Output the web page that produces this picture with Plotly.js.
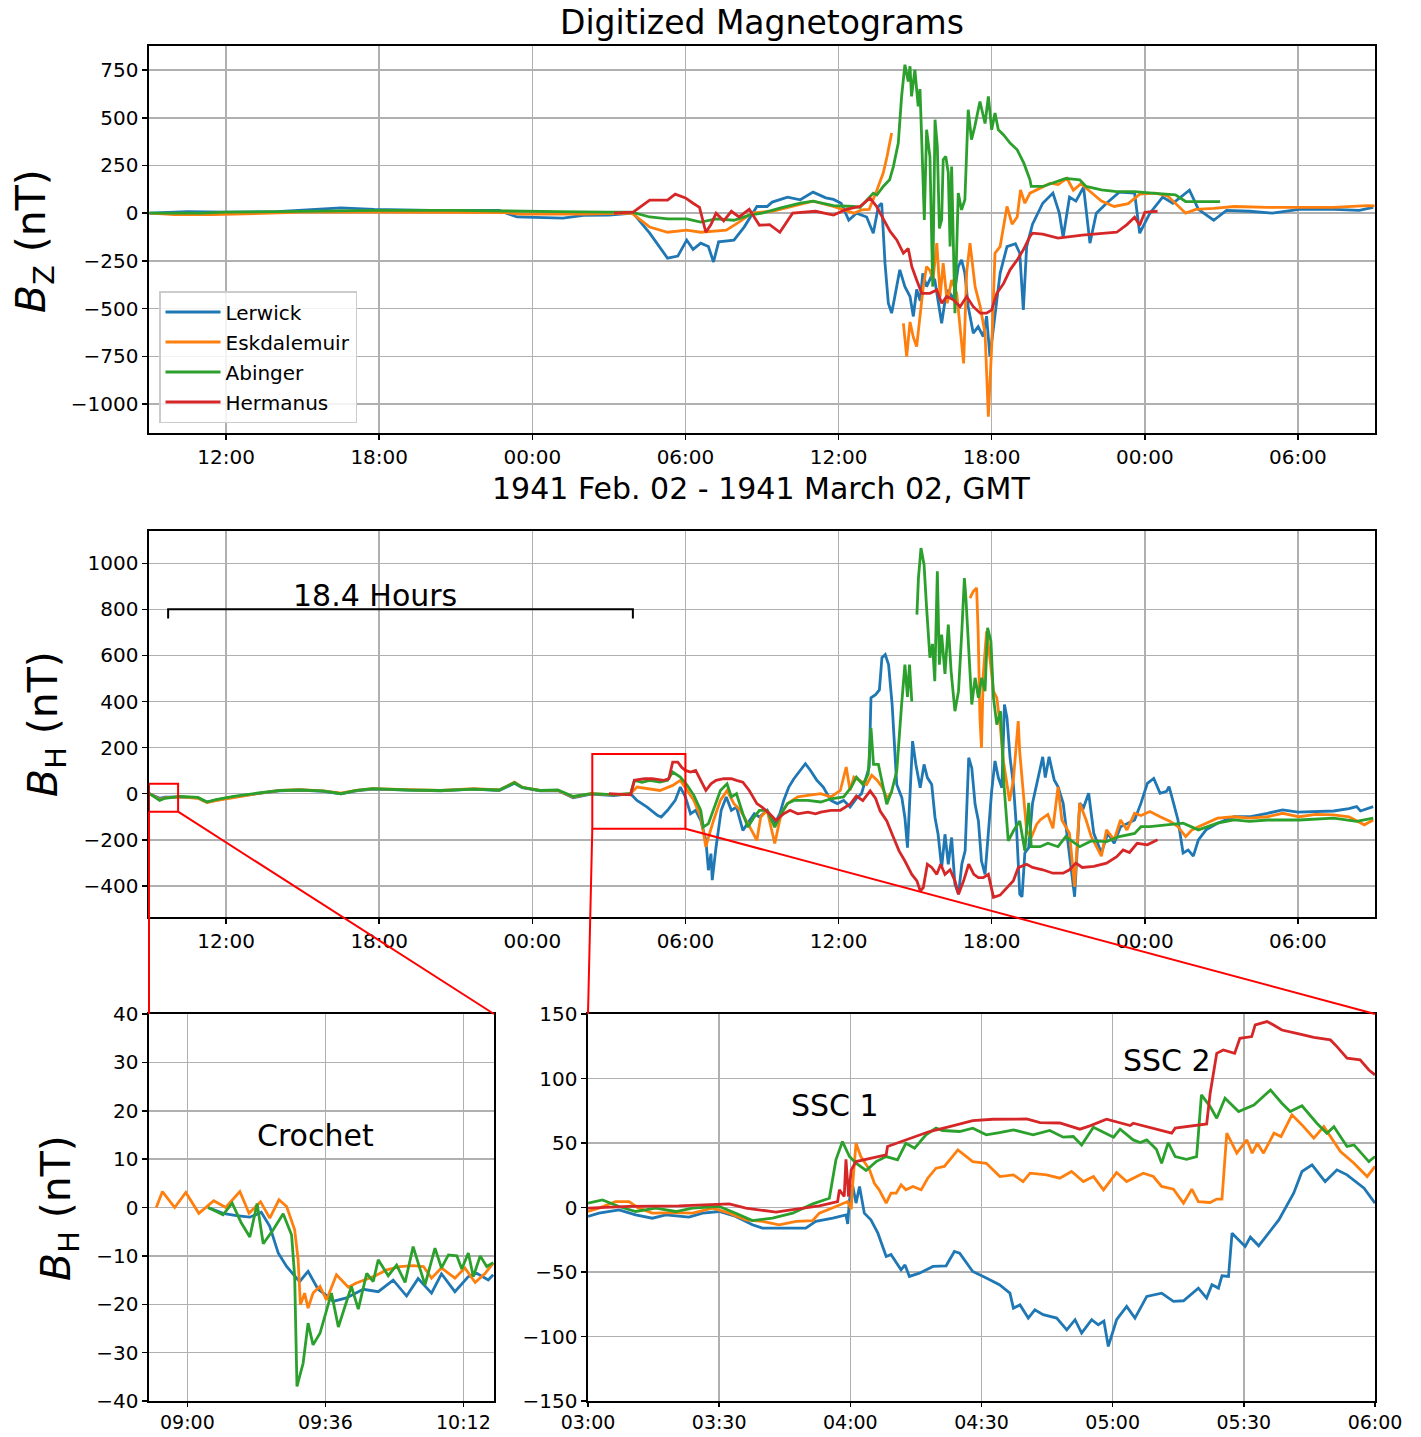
<!DOCTYPE html>
<html>
<head>
<meta charset="utf-8">
<script src="https://cdn.plot.ly/plotly-3.0.1.min.js"></script>
<style>html,body{margin:0;padding:0;background:#fff;}#chart{width:1421px;height:1437px;}</style>
</head>
<body>
<div id="chart"></div>
<script>
// ---------------- DATA ----------------
// Times in hours since 1941-02-28 00:00 GMT
const stations = ["Lerwick", "Eskdalemuir", "Abinger", "Hermanus"];
const colors = ["#1f77b4", "#ff7f0e", "#2ca02c", "#d62728"];

const mainTickVals = [12, 18, 24, 30, 36, 42, 48, 54];
const mainTickText = ["12:00", "18:00", "00:00", "06:00", "12:00", "18:00", "00:00", "06:00"];
const crochetTickVals = [9.0, 9.6, 10.2];
const crochetTickText = ["09:00", "09:36", "10:12"];
const sscTickVals = [0, 30, 60, 90, 120, 150, 180];
const sscTickText = ["03:00", "03:30", "04:00", "04:30", "05:00", "05:30", "06:00"];

// ---- B_Z ----
const bzLerT = [9.0,10.5,12.0,14.0,16.5,17.8,20.0,22.7,23.4,24.5,25.2,26.0,27.0,27.95,28.6,29.3,29.7,30.05,30.3,30.6,30.9,31.1,31.3,31.9,32.3,32.8,33.2,33.4,34.0,34.5,35.0,35.5,35.8,36.1,36.4,36.7,37.1,37.36,37.56,37.69,37.82,37.95,38.08,38.2,38.4,38.6,38.8,38.93,39.06,39.2,39.3,39.45,39.64,39.77,40.04,40.17,40.3,40.5,40.69,40.82,40.95,41.08,41.28,41.47,41.67,41.8,41.93,42.07,42.2,42.33,42.6,42.93,43.1,43.24,43.37,43.6,44.0,44.4,44.65,44.8,45.05,45.3,45.6,45.85,46.1,46.5,47.0,47.6,47.8,48.2,48.7,49.1,49.75,50.1,50.7,51.2,52.1,53.0,54.05,55.4,56.4,56.95];
const bzLerV = [0,8,5,8,28,20,14,14,-20,-22,-26,-12,-10,0,-105,-236,-225,-141,-190,-157,-175,-256,-150,-141,-73,35,35,58,84,70,110,80,72,52,-37,0,-20,-105,35,52,-262,-472,-524,-440,-297,-385,-437,-541,-400,-460,-315,-385,-330,-350,-577,-460,-402,-455,-280,-245,-315,-490,-629,-595,-647,-540,-752,-600,-472,-315,-175,-160,-210,-507,-175,-58,52,105,0,-126,84,63,136,-157,0,52,110,105,-105,0,84,52,120,20,-37,15,10,0,20,20,15,30];

const bzEskT = [9.0,10.0,11.5,13.0,15.0,18.0,21.0,23.0,23.5,26.0,27.9,28.6,29.3,30.05,30.6,31.0,31.6,32.1,32.6,33.4,34.2,35.0,35.8,36.6,36.9,37.2,37.5,37.75,37.9,38.08,38.3,38.54,38.67,38.8,38.93,39.06,39.2,39.32,39.45,39.58,39.7,39.85,39.98,40.1,40.26,40.43,40.63,40.9,41.02,41.15,41.35,41.55,41.74,41.87,42.0,42.13,42.33,42.6,42.8,43.0,43.13,43.3,43.5,43.75,44.3,44.6,44.95,45.2,45.5,45.8,46.3,46.8,47.35,47.8,48.4,48.9,49.6,50.0,50.7,51.5,52.8,54.05,55.4,56.7,57.0];
const bzEskV = [0,-8,-8,-3,5,5,5,3,-5,-5,0,-73,-100,-89,-100,-95,-89,-47,0,10,37,63,35,0,17,20,120,210,297,420,null,-577,-752,-570,-650,-699,-530,-385,-280,-300,-350,-157,-437,-262,-472,-350,-420,-787,-310,-157,-385,-490,-630,-1066,-700,-210,-175,35,-58,-20,122,52,105,120,157,150,183,120,155,120,63,35,50,100,105,90,0,20,25,35,30,30,30,40,38];

const bzAbiT = [9.0,11.0,12.0,15.0,18.0,21.0,23.0,25.0,27.0,27.9,28.6,29.3,30.05,30.6,31.2,31.9,32.5,33.0,33.7,34.5,35.0,35.8,36.6,36.84,37.36,37.5,37.75,38.0,38.15,38.34,38.47,38.6,38.73,38.8,38.86,38.99,39.12,39.19,39.25,39.36,39.45,39.58,39.69,39.78,39.87,39.95,40.04,40.1,40.2,40.3,40.37,40.43,40.56,40.69,40.82,40.95,41.08,41.21,41.34,41.54,41.74,41.87,42.0,42.13,42.26,42.46,42.72,43.0,43.26,43.5,43.55,44.0,44.9,45.45,45.7,46.3,46.9,47.6,48.3,49.2,49.6,50.4,50.95];
const bzAbiV = [0,0,5,12,15,15,10,8,5,5,-20,-30,-30,-47,-30,-37,-10,0,26,52,63,40,35,30,105,95,140,175,245,367,612,778,690,770,612,752,560,650,420,-35,437,297,-385,490,350,-80,-35,280,297,210,-175,245,-524,105,17,70,542,385,455,585,470,612,437,525,437,411,367,332,262,175,140,140,182,175,140,122,113,113,105,96,61,61,61];

const bzHerT = [27.2,27.95,28.6,29.3,29.6,30.0,30.3,30.55,30.8,31.0,31.2,31.5,31.8,32.1,32.5,32.9,33.3,33.7,34.2,35.1,35.8,36.3,36.84,37.23,37.49,37.7,38.02,38.28,38.54,38.73,38.87,39.06,39.26,39.58,39.85,40.04,40.24,40.5,40.76,41.02,41.28,41.55,41.8,42.0,42.2,42.46,42.72,43.0,43.24,43.5,43.6,44.0,44.6,45.55,46.3,46.9,47.3,47.6,47.8,48.0,48.5];
const bzHerV = [0,5,68,68,100,80,52,30,-100,-60,0,-40,10,-20,20,-63,-60,-100,0,10,-10,20,35,79,35,-17,-96,-140,-210,-185,-280,-350,-420,-420,-402,-472,-437,-454,-490,-437,-490,-524,-524,-507,-420,-370,-297,-245,-192,-122,-105,-110,-131,-115,-105,-100,-60,-21,-63,5,10];

// ---- B_H ----
const bhQuietT = [9.0,9.4,9.6,10.2,10.9,11.25,11.6,12.3,13.2,14.1,14.9,15.8,16.5,17.1,17.75,19.1,20.4,21.7,22.7,23.3,23.6,24.3,25.0,25.6,26.3,27.2];
const bhLerQuietV = [0,-20,-15,-14,-18,-36,-28,-14,0,12,16,10,0,12,20,16,12,20,14,45,26,12,14,-18,-2,-8];
const bhEskQuietV = [0,-25,-18,-14,-20,-38,-30,-16,0,14,18,12,2,14,22,18,14,22,16,50,28,14,14,-14,0,-5];
const bhAbiQuietV = [0,-29,-20,-12,-16,-36,-26,-12,2,14,16,12,0,14,22,16,14,20,16,48,28,14,16,-12,0,-4];

const bhLerT = [27.85,28.1,28.5,28.9,29.05,29.3,29.6,29.8,30.0,30.2,30.4,30.6,30.8,30.9,31.0,31.05,31.2,31.4,31.6,31.8,32.0,32.25,32.5,32.7,32.9,33.2,33.5,33.7,33.85,34.05,34.25,34.5,34.7,34.9,35.15,35.4,35.7,35.95,36.2,36.45,36.7,36.9,37.2,37.27,37.45,37.6,37.7,37.83,37.96,38.1,38.2,38.28,38.48,38.6,38.7,38.8,38.9,39.03,39.2,39.35,39.48,39.65,39.78,39.9,40.04,40.17,40.3,40.43,40.56,40.7,40.83,40.96,41.1,41.22,41.35,41.48,41.6,41.74,41.87,42.0,42.13,42.26,42.4,42.5,42.6,42.72,42.85,42.98,43.1,43.19,43.3,43.45,43.6,43.9,44.0,44.1,44.25,44.45,44.6,44.8,45.05,45.25,45.45,45.6,45.8,46.0,46.3,46.55,46.8,47.05,47.3,47.6,47.85,48.1,48.35,48.6,48.85,48.95,49.1,49.3,49.5,49.7,49.9,50.1,50.4,50.85,51.5,52.1,52.8,53.4,54.0,54.7,55.4,56.0,56.3,56.45,56.95];
const bhLerV = [0,-29,-58,-94,-101,-72,-29,29,-14,-87,-72,-116,-202,-332,-260,-375,-231,-72,-14,-72,-58,-159,-120,-87,-101,-72,-130,-87,-29,29,65,101,130,101,58,29,-29,-43,-29,-58,-20,0,116,416,430,450,590,604,560,387,214,40,-17,-104,-234,-17,228,127,26,127,70,40,-104,-176,-321,-176,-306,-190,-393,-436,-306,-248,156,112,-46,-118,-292,-350,-160,12,142,70,26,387,329,156,40,-162,-436,-447,-257,-234,-41,117,160,70,160,60,30,-41,-257,-447,-41,-60,2,-172,-257,-172,-215,-143,-130,-114,-41,45,66,2,10,31,-30,-114,-257,-244,-271,-200,-157,-128,-100,-100,-85,-70,-80,-77,-75,-65,-56,-75,-56];

const bhEskT = [27.85,28.1,28.5,29.0,29.5,29.8,30.07,30.33,30.6,30.8,30.9,31.1,31.37,31.63,31.9,32.15,32.45,32.8,32.95,33.2,33.5,33.75,34.0,34.4,34.8,35.3,35.7,36.07,36.3,36.45,36.6,36.85,37.1,37.3,37.5,37.7,37.9,38.1,38.2,41.15,41.28,41.41,41.47,41.54,41.6,41.67,41.8,41.93,42.07,42.2,42.33,42.46,42.59,42.7,42.85,42.98,43.04,43.1,43.24,43.37,43.55,43.76,43.9,44.2,44.4,44.6,44.75,45.05,45.25,45.45,45.7,45.9,46.3,46.5,46.8,47.05,47.3,47.6,47.85,48.2,48.6,49.0,49.3,49.6,49.85,50.1,50.85,51.5,52.1,52.8,53.4,54.05,54.7,55.4,56.0,56.6,56.95];
const bhEskV = [0,29,22,14,36,58,14,-29,-101,-231,-190,-116,-29,14,-43,-72,-130,-202,-101,-72,-216,-87,-43,-14,-7,0,-14,14,116,14,72,55,40,80,60,30,-20,10,null,849,878,893,700,329,199,517,705,589,445,416,300,141,40,-32,60,243,315,180,-17,-162,-190,-133,-114,-90,-150,30,-114,-172,-403,-41,-114,-186,-271,-157,-200,-114,-157,-85,-95,-77,-100,-120,-143,-186,-157,-143,-106,-100,-106,-100,-85,-100,-90,-92,-100,-135,-114];

const bhAbiT = [27.85,28.0,28.3,28.6,29.0,29.3,29.5,29.8,30.07,30.33,30.6,30.7,30.9,31.1,31.37,31.63,31.8,32.0,32.25,32.45,32.7,32.9,33.2,33.5,33.75,34.0,34.25,34.8,35.3,35.7,36.2,36.5,36.7,36.95,37.16,37.27,37.37,37.56,37.69,37.89,38.08,38.28,38.47,38.6,38.7,38.78,38.87,38.97,39.07,39.13,39.23,39.35,39.45,39.58,39.68,39.77,39.87,39.95,40.04,40.17,40.3,40.41,40.56,40.7,40.83,40.93,40.99,41.1,41.22,41.35,41.48,41.61,41.74,41.84,41.97,42.07,42.2,42.35,42.48,42.65,42.85,43.1,43.3,43.45,43.55,43.9,44.2,44.6,44.9,45.45,45.9,46.5,47.0,47.6,47.85,48.2,48.8,49.5,50.1,50.85,51.5,52.1,52.8,54.05,55.4,56.3,56.95];
const bhAbiV = [0,58,50,58,50,58,94,72,36,-7,-72,-145,-130,-72,14,43,-14,0,-87,-145,-100,-72,-72,-145,-87,-43,-29,-29,-36,-22,-14,29,72,40,84,286,127,127,55,-46,10,98,387,560,420,560,400,null,777,936,1066,994,806,590,650,488,965,560,690,520,734,531,358,445,705,936,849,600,387,503,416,503,445,720,662,416,300,358,40,-205,-162,-118,-248,-40,-230,-230,-215,-230,-186,-230,-205,-208,-186,-172,-143,-143,-135,-128,-157,-128,-114,-120,-114,-114,-106,-120,-106];

const bhHerT = [27.0,27.85,28.0,28.4,28.7,29.15,29.35,29.5,29.7,29.85,30.0,30.2,30.4,30.6,30.8,31.0,31.2,31.5,31.8,32.0,32.25,32.5,32.8,33.0,33.3,33.55,33.85,34.1,34.4,34.8,35.1,35.3,35.7,36.07,36.3,36.45,36.7,36.95,37.24,37.45,37.63,37.89,38.1,38.37,38.6,38.87,39.07,39.2,39.32,39.48,39.65,39.85,40.0,40.17,40.37,40.56,40.7,40.9,41.1,41.3,41.48,41.67,41.87,42.07,42.33,42.6,42.85,43.04,43.37,43.6,44.0,44.4,44.8,45.05,45.3,45.55,46.0,46.5,46.9,47.15,47.4,47.7,48.1,48.5];
const bhHerV = [0,-5,58,65,65,58,65,137,137,115,101,94,101,58,14,43,58,65,65,58,50,14,-43,-58,-87,-116,-87,-72,-87,-80,-87,-80,-72,-72,-58,-46,-10,-30,12,-20,-75,-118,-176,-248,-292,-350,-378,-422,-407,-306,-320,-350,-306,-350,-330,-378,-436,-378,-306,-350,-364,-364,-350,-450,-440,-407,-378,-321,-306,-320,-330,-345,-345,-330,-301,-320,-315,-301,-273,-244,-255,-215,-222,-200];

// ---- Crochet inset (minutes after 09:00, 1941-02-28) ----
const crLerM = [5.4,9.3,12.8,16.3,19.3,21.5,23.7,25.9,28.5,29.3,31.5,34.1,36.7,38.0,41.5,45.9,49.8,53.7,57.2,60.2,63.7,66.3,69.8,73.3,75.5,78.5,79.8];
const crLerV = [0,-1.2,-1.7,-2.0,-1.0,-3.9,-9.4,-12.2,-14.6,-15.3,-13.2,-16.9,-18.4,-19.4,-18.7,-16.9,-17.4,-15.0,-18.3,-14.7,-17.7,-13.7,-17.4,-14.3,-13.6,-15.0,-13.9];
const crEskM = [-8.1,-6.5,-3.3,-0.4,3.0,6.9,10.0,13.7,16.1,19.1,21.5,23.9,25.9,28.0,28.9,29.5,30.6,31.5,32.8,34.6,36.3,38.9,42.0,44.1,48.5,52.0,55.5,58.9,61.6,63.7,66.3,69.8,72.4,75.1,77.7,79.8];
const crEskV = [0,3.3,0,3.1,-1.2,1.4,0,3.3,-1.2,1.2,-2.2,1.6,0.2,-4.6,-10.8,-20.1,-17.7,-20.8,-17.7,-16.3,-19.1,-13.9,-16.5,-15.6,-14.3,-12.9,-12.2,-12.0,-12.2,-14.6,-12.5,-14.6,-12.5,-15.5,-13.6,-11.5];
const crAbiM = [5.4,9.3,11.7,14.1,16.3,18.2,19.8,22.4,25.0,27.2,28.0,28.6,30.2,31.5,32.8,34.6,37.6,39.4,42.8,44.6,46.8,48.5,49.8,52.4,54.6,56.8,58.9,62.0,64.6,66.3,68.1,70.3,71.6,73.3,74.6,76.4,78.1,79.8];
const crAbiV = [0,-1.5,0.9,-3.2,-6.1,0.8,-7.5,-4.6,-1.3,-5.7,-14.3,-37.0,-32.2,-23.9,-28.4,-26.0,-17.7,-24.7,-16.3,-21.0,-13.6,-15.3,-10.8,-14.1,-11.9,-15.5,-8.1,-16.0,-8.4,-12.5,-9.8,-10.0,-12.7,-9.4,-14.3,-10.0,-12.2,-11.4];

// ---- SSC inset (minutes after 03:00, 1941-03-01) ----
const sscLerM = [0,2.5,7.1,10.9,14.7,17.8,23.1,26.2,30.0,33.8,37.6,39.9,43.7,49.8,52.1,56.0,59.0,59.4,59.8,60.5,61.3,62.1,63.2,64.7,66.3,68.2,69.3,70.5,71.6,72.5,73.5,75.8,78.9,81.9,83.8,85.0,88.0,91.1,94.1,96.5,97.3,98.8,100.7,102.2,104.1,107.2,109.5,111.4,112.9,115.2,116.7,118.0,119.0,120.9,123.2,125.1,127.8,131.2,133.9,136.2,139.6,141.5,142.7,144.2,145.0,146.5,147.3,150.3,151.5,153.4,158.0,161.4,163.3,165.6,168.6,171.3,173.6,177.5,180.0];
const sscLerV = [-7.0,-4.4,-1.8,-5.7,-8.3,-5.7,-7.5,-4.4,-3.1,-7.0,-13.4,-16.0,-16.0,-16.0,-10.8,-8.3,-5.7,-12.7,5.9,17.6,3.4,16.3,-4.4,-9.6,-19.9,-38.0,-36.5,-43.1,-48.3,-44.5,-53.4,-50.9,-45.7,-45.2,-34.1,-35.5,-49.6,-54.7,-59.9,-66.4,-78.0,-75.5,-85.7,-79.3,-83.1,-85.7,-94.8,-87.0,-97.3,-87.0,-90.9,-88.0,-107.7,-87.0,-76.7,-85.7,-68.9,-66.4,-72.8,-72.3,-62.5,-70.2,-59.9,-62.5,-52.9,-53.4,-19.9,-30.2,-23.0,-29.7,-9.6,11.1,27.9,33.0,20.1,29.2,25.3,15.0,3.4];
const sscEskM = [0,2.5,6.3,9.4,11.3,14.7,20.1,23.9,28.5,32.3,36.1,39.9,43.7,47.6,51.4,52.9,56.7,59.4,60.2,60.5,61.3,62.4,64.4,65.5,66.6,68.2,69.3,70.5,71.6,72.7,74.3,76.2,77.7,79.6,81.5,84.6,88.0,91.1,94.2,97.3,99.5,101.1,104.9,107.9,110.6,113.3,115.6,117.9,120.9,123.2,127.0,129.3,131.2,133.9,136.2,138.1,139.6,142.3,143.8,145.0,146.1,148.4,150.7,151.9,153.1,154.5,156.9,158.5,161.0,163.3,166.0,168.3,172.1,175.2,178.2,180.0];
const sscEskV = [-3.1,-0.5,4.6,4.6,0,-4.4,-3.9,-4.4,-0.5,-4.4,-9.6,-10.8,-13.4,-10.8,-10.1,-4.4,0.8,4.6,-1.3,16.3,49.8,39.5,29.2,18.8,13.7,3.4,11.1,11.1,17.6,13.7,16.3,13.7,22.7,30.5,31.8,44.7,35.6,34.3,24.0,25.3,20.1,26.6,25.3,22.7,27.9,20.1,24.0,13.7,27.1,20.1,26.6,24.0,16.3,14.2,3.4,14.2,4.6,3.9,6.5,6.5,57.6,42.1,52.4,42.1,49.8,42.1,57.6,55.0,71.8,64.0,53.7,62.7,43.4,34.3,24.0,31.8];
const sscAbiM = [0,3.3,7.1,10.9,15.5,20.1,23.9,30.0,33.8,37.6,42.2,46.8,51.4,55.2,56.7,58.2,59.8,61.3,63.6,65.9,68.2,70.8,72.7,74.7,77.3,79.6,81.1,85.0,88.0,91.1,94.1,97.3,101.8,105.6,108.7,111.0,112.9,115.6,120.2,121.7,124.7,126.3,127.8,130.0,131.2,132.7,134.3,136.9,139.2,140.3,142.3,143.8,145.7,148.8,152.3,156.1,158.7,160.6,163.3,166.7,169.0,170.6,173.6,175.2,178.6,180.0];
const sscAbiV = [3.4,5.9,0.8,-3.1,-0.5,-3.1,-0.5,0.8,-4.4,-10.1,-8.3,-4.4,2.8,7.2,36.9,51.1,39.5,34.3,28.7,35.6,39.5,36.9,49.8,46.0,56.3,61.5,59.7,58.9,61.5,56.3,58.0,60.2,56.3,59.7,54.5,55.0,48.5,62.2,54.5,60.7,52.4,50.3,52.4,45.2,34.3,50.3,39.5,37.4,39.5,87.3,78.2,69.2,84.7,74.4,79.5,91.1,80.8,74.4,78.8,65.3,57.6,62.7,47.3,48.5,35.6,39.5];
const sscHerM = [0,9.4,20.8,32.3,36.1,43.0,47.6,52.9,57.1,57.5,58.6,59.0,59.6,60.2,61.3,65.1,68.2,68.5,72.7,78.1,82.7,88.0,92.6,94.2,100.3,103.4,107.9,112.5,114.8,118.6,121.7,124.0,124.7,127.0,130.8,133.5,134.3,136.9,141.5,142.3,143.8,145.3,147.9,149.1,151.8,152.6,155.3,156.8,158.7,162.1,166.0,169.8,171.3,173.6,176.6,178.6,180.0];
const sscHerV = [-0.5,0.8,1.3,2.8,-0.5,-3.6,-1.3,1.3,4.6,13.7,8.5,37.4,8.5,29.2,35.6,38.2,40.8,47.3,52.4,58.9,62.7,67.4,68.4,68.4,68.6,65.8,65.5,60.7,63.3,68.4,65.8,63.5,65.3,63.3,60.2,57.6,61.5,62.7,64.8,88.6,119.5,122.1,119.5,131.2,132.5,141.5,144.1,141.5,137.6,135.0,131.9,129.9,124.7,115.7,114.4,106.6,102.8];

// ---------------- FIGURE ----------------
const W = 1421, H = 1437;
const FONT = "DejaVu Sans, Liberation Sans, sans-serif";
const px2x = p => p / W;
const px2y = p => 1 - p / H;

const LW = 2.8;
function tr(x, y, i, xa, ya, legend) {
  return {
    type: "scatter", mode: "lines", x: x, y: y,
    name: stations[i], legendgroup: stations[i], showlegend: !!legend,
    line: { color: colors[i], width: LW },
    xaxis: xa, yaxis: ya, connectgaps: false, hoverinfo: "skip"
  };
}
const minToH9 = m => 9 + m / 60;

const data = [
  tr(bzLerT, bzLerV, 0, "x", "y", true),
  tr(bzEskT, bzEskV, 1, "x", "y", true),
  tr(bzAbiT, bzAbiV, 2, "x", "y", true),
  tr(bzHerT, bzHerV, 3, "x", "y", true),
  tr(bhQuietT.concat(bhLerT), bhLerQuietV.concat(bhLerV), 0, "x2", "y2"),
  tr(bhQuietT.concat(bhEskT), bhEskQuietV.concat(bhEskV), 1, "x2", "y2"),
  tr(bhQuietT.concat(bhAbiT), bhAbiQuietV.concat(bhAbiV), 2, "x2", "y2"),
  tr(bhHerT, bhHerV, 3, "x2", "y2"),
  tr(crLerM.map(minToH9), crLerV, 0, "x3", "y3"),
  tr(crEskM.map(minToH9), crEskV, 1, "x3", "y3"),
  tr(crAbiM.map(minToH9), crAbiV, 2, "x3", "y3"),
  tr(sscLerM, sscLerV, 0, "x4", "y4"),
  tr(sscEskM, sscEskV, 1, "x4", "y4"),
  tr(sscAbiM, sscAbiV, 2, "x4", "y4"),
  tr(sscHerM, sscHerV, 3, "x4", "y4")
];

const tickFont = { family: FONT, size: 20, color: "#000" };
const insetTickFont = { family: FONT, size: 19, color: "#000" };
function axisBase(extra) {
  return Object.assign({
    showgrid: true, gridcolor: "#b0b0b0", gridwidth: 1.5,
    showline: true, mirror: true, linecolor: "#000", linewidth: 1.6,
    ticks: "outside", ticklen: 5, tickwidth: 1.5, tickcolor: "#000",
    zeroline: false, tickfont: tickFont, fixedrange: true, automargin: false
  }, extra);
}

const mainXDomain = [px2x(149), px2x(1375)];
const layout = {
  width: W, height: H,
  margin: { l: 0, r: 0, t: 0, b: 0 },
  paper_bgcolor: "#fff", plot_bgcolor: "#fff",
  font: { family: FONT, color: "#000" },
  title: { text: "Digitized Magnetograms", font: { family: FONT, size: 33, color: "#000" },
           x: px2x(762), xanchor: "center", xref: "paper", y: px2y(22), yanchor: "middle", yref: "container" },
  showlegend: true,
  legend: {
    x: px2x(159), y: px2y(291), xanchor: "left", yanchor: "top",
    bgcolor: "rgba(255,255,255,0.85)", bordercolor: "#cccccc", borderwidth: 1.5,
    font: { family: FONT, size: 20, color: "#000" }, tracegroupgap: 1, itemwidth: 55
  },
  xaxis: axisBase({ domain: mainXDomain, anchor: "y", range: [8.98, 57.02], tickvals: mainTickVals, ticktext: mainTickText }),
  yaxis: axisBase({ domain: [px2y(433), px2y(46)], anchor: "x", range: [-1152, 876], tick0: 0, dtick: 250 }),
  xaxis2: axisBase({ domain: mainXDomain, anchor: "y2", range: [8.98, 57.02], tickvals: mainTickVals, ticktext: mainTickText }),
  yaxis2: axisBase({ domain: [px2y(917), px2y(531)], anchor: "x2", range: [-535, 1140], tick0: 0, dtick: 200 }),
  xaxis3: axisBase({ domain: [px2x(149), px2x(494)], anchor: "y3", range: [8.8333, 10.3333], tickvals: crochetTickVals, ticktext: crochetTickText, tickfont: insetTickFont, ticklen: 4 }),
  yaxis3: axisBase({ domain: [px2y(1401), px2y(1014)], anchor: "x3", range: [-40, 40], tick0: 0, dtick: 10 }),
  xaxis4: axisBase({ domain: [px2x(588), px2x(1375)], anchor: "y4", range: [0, 180], tickvals: sscTickVals, ticktext: sscTickText, tickfont: insetTickFont, ticklen: 4 }),
  yaxis4: axisBase({ domain: [px2y(1401), px2y(1014)], anchor: "x4", range: [-150, 150], tick0: 0, dtick: 50 })
};

// data -> paper helper for connector lines
function toPaper(axName, v) {
  const a = layout[axName];
  return a.domain[0] + (v - a.range[0]) / (a.range[1] - a.range[0]) * (a.domain[1] - a.domain[0]);
}
// zoom boxes (in middle-panel data coords) and their matching inset corners
const zoomBoxes = [
  { x0: 8.98, x1: 10.12, y0: -78, y1: 43, inX: "xaxis3", inY: "yaxis3" },
  { x0: 26.35, x1: 30.0, y0: -152, y1: 172, inX: "xaxis4", inY: "yaxis4" }
];
const shapes = [];
zoomBoxes.forEach(b => {
  shapes.push({ type: "rect", xref: "x2", yref: "y2", x0: b.x0, x1: b.x1, y0: b.y0, y1: b.y1,
                line: { color: "#ff0000", width: 2 }, fillcolor: "rgba(0,0,0,0)", layer: "above" });
  const bx0 = toPaper("xaxis2", b.x0), bx1 = toPaper("xaxis2", b.x1), by = toPaper("yaxis2", b.y0);
  const ix = layout[b.inX], iy = layout[b.inY];
  shapes.push({ type: "line", xref: "paper", yref: "paper", x0: bx0, y0: by, x1: ix.domain[0], y1: iy.domain[1],
                line: { color: "#ff0000", width: 2 }, layer: "above" });
  shapes.push({ type: "line", xref: "paper", yref: "paper", x0: bx1, y0: by, x1: ix.domain[1], y1: iy.domain[1],
                line: { color: "#ff0000", width: 2 }, layer: "above" });
});
// 18.4 hour bracket: from crochet to SSC 1
const bracket = { x0: 9.73, x1: 27.94, y: 800, tick: 40 };
shapes.push({ type: "path", xref: "x2", yref: "y2",
  path: `M ${bracket.x0},${bracket.y - bracket.tick} L ${bracket.x0},${bracket.y} L ${bracket.x1},${bracket.y} L ${bracket.x1},${bracket.y - bracket.tick}`,
  line: { color: "#000", width: 2 }, layer: "above" });
layout.shapes = shapes;

const annFont = { family: FONT, size: 30, color: "#000" };
const ylabFont = { family: FONT, size: 41, color: "#000" };
layout.annotations = [
  { text: "1941 Feb. 02 - 1941 March 02, GMT", xref: "paper", yref: "paper", x: px2x(761), y: px2y(489),
    xanchor: "center", yanchor: "middle", showarrow: false, font: { family: FONT, size: 30, color: "#000" } },
  { text: "<i>B</i><sub>Z</sub> (nT)", xref: "paper", yref: "paper", x: px2x(34), y: px2y(241),
    xanchor: "center", yanchor: "middle", textangle: -90, showarrow: false, font: ylabFont },
  { text: "<i>B</i><sub>H</sub> (nT)", xref: "paper", yref: "paper", x: px2x(46), y: px2y(724),
    xanchor: "center", yanchor: "middle", textangle: -90, showarrow: false, font: ylabFont },
  { text: "<i>B</i><sub>H</sub> (nT)", xref: "paper", yref: "paper", x: px2x(59), y: px2y(1208),
    xanchor: "center", yanchor: "middle", textangle: -90, showarrow: false, font: ylabFont },
  { text: "18.4 Hours", xref: "x2", yref: "y2", x: 17.84, y: 861, xanchor: "center", yanchor: "middle", showarrow: false, font: annFont },
  { text: "Crochet", xref: "x3", yref: "y3", x: 9.558, y: 14.8, xanchor: "center", yanchor: "middle", showarrow: false, font: annFont },
  { text: "SSC 1", xref: "x4", yref: "y4", x: 56.5, y: 78.7, xanchor: "center", yanchor: "middle", showarrow: false, font: annFont },
  { text: "SSC 2", xref: "x4", yref: "y4", x: 132.4, y: 114.3, xanchor: "center", yanchor: "middle", showarrow: false, font: annFont }
];

Plotly.newPlot("chart", data, layout, { displayModeBar: false, staticPlot: true });
</script>
</body>
</html>
